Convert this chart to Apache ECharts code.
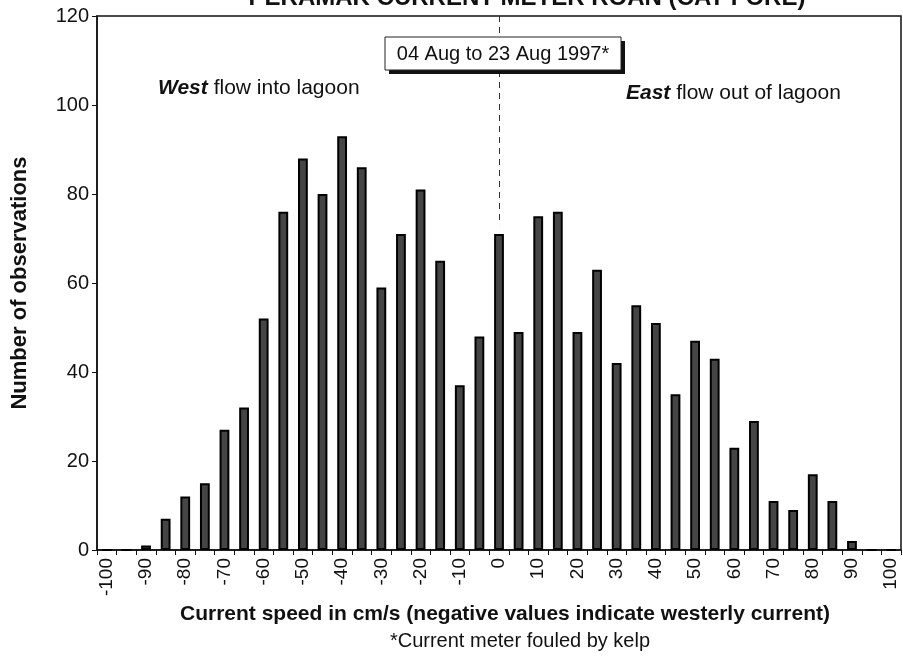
<!DOCTYPE html>
<html>
<head>
<meta charset="utf-8">
<script src="https://cdn.jsdelivr.net/npm/echarts@6/dist/echarts.min.js"></script>
<style>
  html, body { margin: 0; padding: 0; background: #fff; }
  #chart { width: 903px; height: 662px; }
</style>
</head>
<body>
<div id="chart"></div>
<script>
// speed classes, cm/s (5 cm/s bins)
const speeds = ['-100', '-95', '-90', '-85', '-80', '-75', '-70', '-65', '-60', '-55', '-50',
  '-45', '-40', '-35', '-30', '-25', '-20', '-15', '-10', '-5', '0',
  '5', '10', '15', '20', '25', '30', '35', '40', '45', '50',
  '55', '60', '65', '70', '75', '80', '85', '90', '95', '100']
// number of observations per class
const counts = [0, 0, 1, 7, 12, 15, 27, 32, 52, 76, 88,
  80, 93, 86, 59, 71, 81, 65, 37, 48, 71,
  49, 75, 76, 49, 63, 42, 55, 51, 35, 47,
  43, 23, 29, 11, 9, 17, 11, 2, 0, 0]
const yTicks = [0, 20, 40, 60, 80, 100, 120]

const font = 'Liberation Sans, Arial, sans-serif'
const chart = echarts.init(document.getElementById('chart'))

const option = {
  backgroundColor: '#fff',
  animation: false,
  title: {
    text: 'PERAMAK CURRENT METER ROAN (CAT FORE)',
    left: 522,
    textAlign: 'center',
    top: -19,
    textStyle: { fontFamily: font, fontSize: 24, fontWeight: 'bold', color: '#111' }
  },
  grid: {
    left: 97, right: 2, top: 16, bottom: 112,
    show: true, borderColor: '#111', borderWidth: 1.5
  },
  xAxis: {
    type: 'category',
    data: speeds,
    boundaryGap: true,
    axisLine: { lineStyle: { color: '#111', width: 1.5 } },
    axisTick: { show: true, interval: 0, length: 5, lineStyle: { color: '#111' } },
    axisLabel: {
      interval: 1,
      rotate: 90,
      margin: 8,
      fontFamily: font,
      fontSize: 19,
      color: '#111'
    },
    name: 'Current speed in cm/s (negative values indicate westerly current)',
    nameLocation: 'middle',
    nameGap: 52,
    nameTextStyle: { fontFamily: font, fontSize: 21, fontWeight: 'bold', color: '#111', padding: [0, 0, 0, 12] }
  },
  yAxis: {
    type: 'value',
    min: 0,
    max: 120,
    interval: 20,
    axisLine: { show: true, lineStyle: { color: '#111', width: 1.5 } },
    axisTick: { show: true, length: 5, lineStyle: { color: '#111' } },
    splitLine: { show: false },
    axisLabel: {
      fontFamily: font,
      fontSize: 20,
      color: '#111',
      margin: 8,
      formatter: v => (yTicks.includes(v) ? String(v) : '')
    },
    name: 'Number of observations',
    nameLocation: 'middle',
    nameGap: 66,
    nameTextStyle: { fontFamily: font, fontSize: 22, fontWeight: 'bold', color: '#111' }
  },
  series: [{
    type: 'bar',
    data: counts,
    barWidth: '50%',
    itemStyle: { color: '#454545', borderColor: '#000', borderWidth: 2 },
    markLine: {
      silent: true,
      symbol: 'none',
      label: { show: false },
      lineStyle: { type: [6, 5], color: '#333', width: 1 },
      data: [[{ coord: ['0', 120] }, { coord: ['0', 73] }]]
    }
  }],
  graphic: [
    {
      type: 'rect',
      z: 100,
      shape: { x: 389, y: 41, width: 236, height: 33 },
      style: { fill: '#111' }
    },
    {
      type: 'rect',
      z: 101,
      shape: { x: 385, y: 37, width: 236, height: 33 },
      style: { fill: '#fff', stroke: '#222', lineWidth: 1 }
    },
    {
      type: 'text',
      z: 102,
      x: 503, y: 54,
      style: {
        text: '04 Aug to 23 Aug 1997*',
        align: 'center', verticalAlign: 'middle',
        font: '20px ' + font, fill: '#111'
      }
    },
    {
      type: 'text',
      z: 102,
      x: 158, y: 88,
      style: {
        text: '{b|West} flow into lagoon',
        verticalAlign: 'middle',
        font: '21px ' + font, fill: '#111',
        rich: { b: { fontFamily: font, fontSize: 21, fontWeight: 'bold', fontStyle: 'italic' } }
      }
    },
    {
      type: 'text',
      z: 102,
      x: 626, y: 93,
      style: {
        text: '{b|East} flow out of lagoon',
        verticalAlign: 'middle',
        font: '21px ' + font, fill: '#111',
        rich: { b: { fontFamily: font, fontSize: 21, fontWeight: 'bold', fontStyle: 'italic' } }
      }
    },
    {
      type: 'text',
      z: 102,
      x: 520, y: 641,
      style: {
        text: '*Current meter fouled by kelp',
        align: 'center', verticalAlign: 'middle',
        font: '20px ' + font, fill: '#111'
      }
    }
  ]
}

chart.setOption(option)
</script>
</body>
</html>
